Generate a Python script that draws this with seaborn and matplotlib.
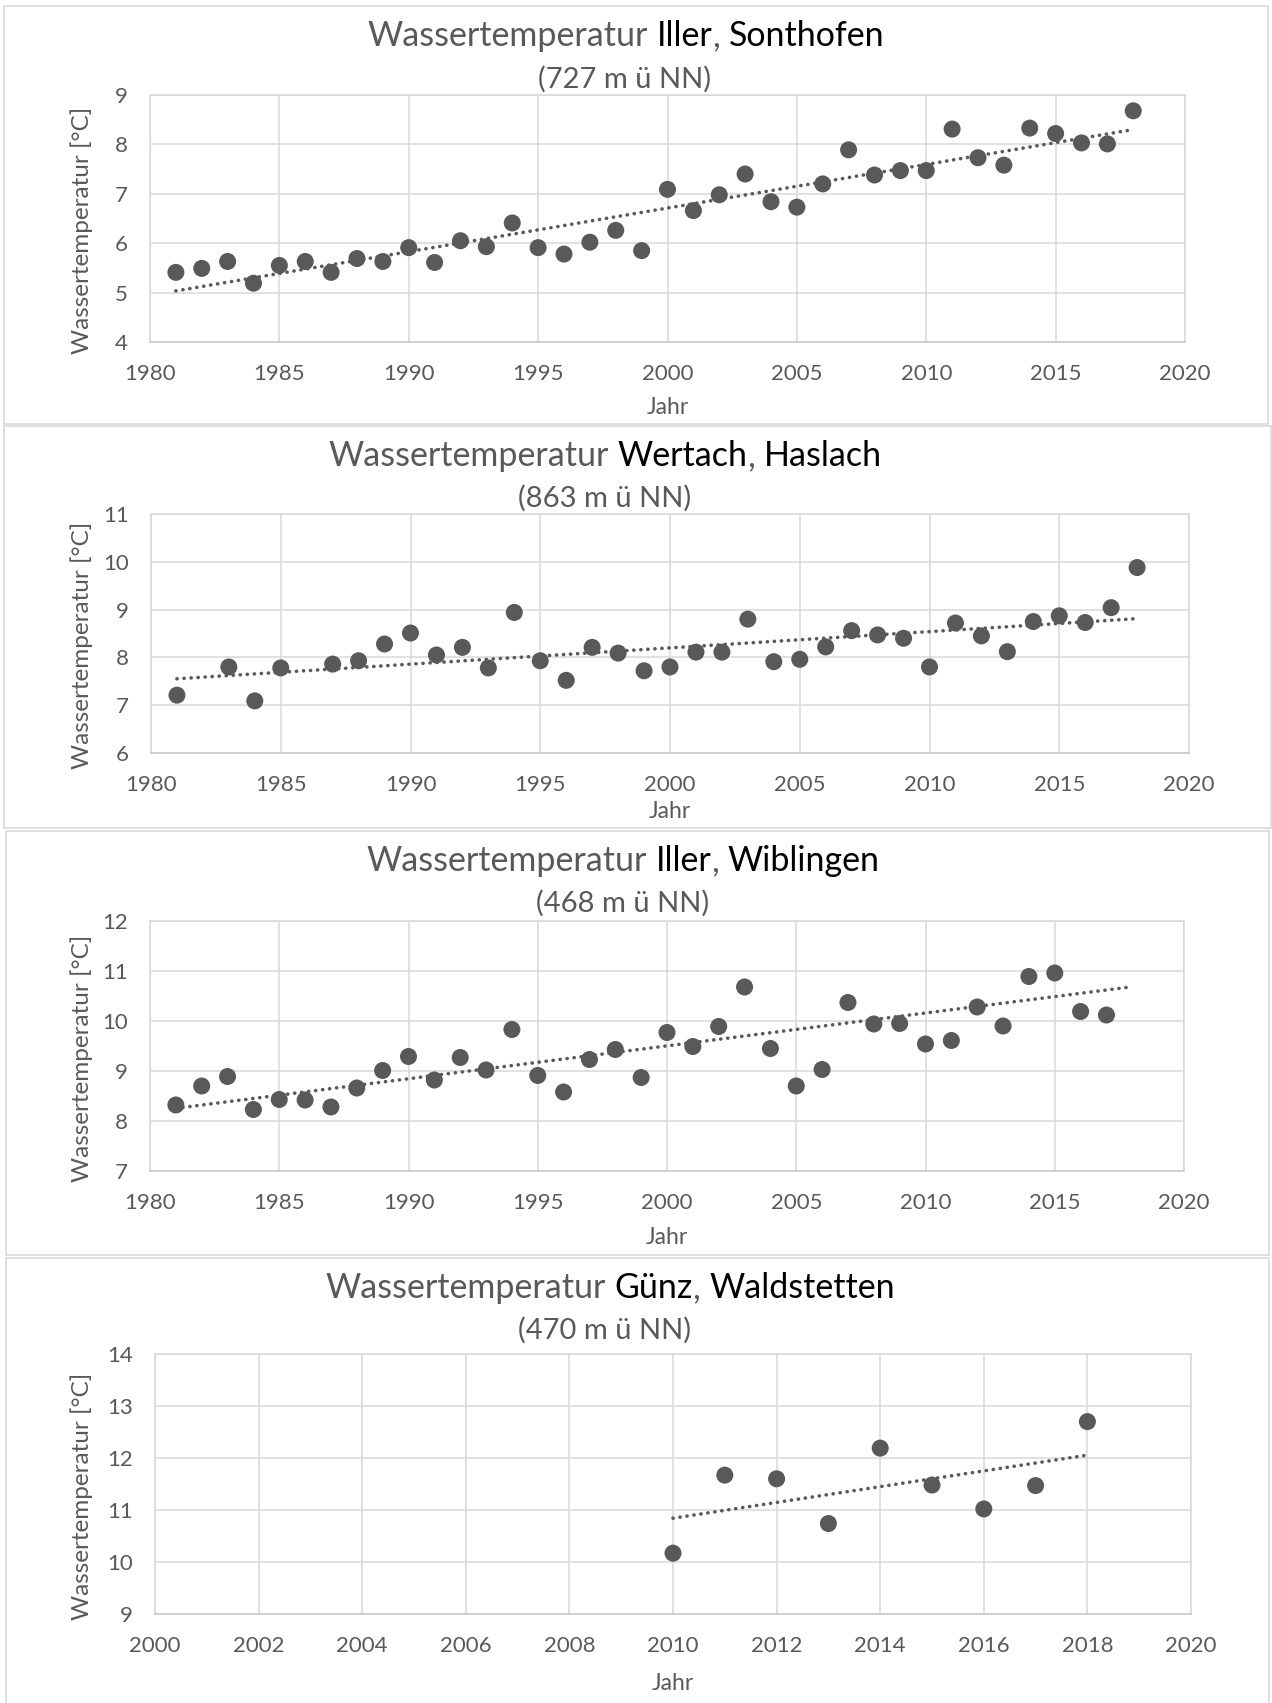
import numpy as np
import matplotlib
matplotlib.use("Agg")
import matplotlib.pyplot as plt
import seaborn as sns
import pandas as pd
from matplotlib.offsetbox import TextArea, HPacker, AnnotationBbox
from matplotlib.patches import Rectangle

# ---------------- data ----------------
years_sonthofen = list(range(1981, 2019))
temp_sonthofen = [5.41, 5.49, 5.63, 5.19, 5.55, 5.63, 5.41, 5.69, 5.63, 5.91,
                  5.61, 6.05, 5.93, 6.41, 5.91, 5.78, 6.02, 6.26, 5.85, 7.09,
                  6.66, 6.98, 7.40, 6.84, 6.73, 7.20, 7.89, 7.38, 7.47, 7.47,
                  8.31, 7.73, 7.58, 8.33, 8.22, 8.03, 8.01, 8.68]

years_haslach = [1981, 1983, 1984, 1985, 1987, 1988, 1989, 1990, 1991, 1992,
                 1993, 1994, 1995, 1996, 1997, 1998, 1999, 2000, 2001, 2002,
                 2003, 2004, 2005, 2006, 2007, 2008, 2009, 2010, 2011, 2012,
                 2013, 2014, 2015, 2016, 2017, 2018]
temp_haslach = [7.21, 7.80, 7.09, 7.78, 7.86, 7.93, 8.28, 8.51, 8.05, 8.21,
                7.78, 8.94, 7.93, 7.52, 8.21, 8.09, 7.72, 7.80, 8.11, 8.11,
                8.80, 7.91, 7.96, 8.22, 8.56, 8.47, 8.40, 7.80, 8.72, 8.45,
                8.12, 8.75, 8.87, 8.73, 9.04, 9.88]

# the 2018 value lies above the axis maximum (12 °C) and is clipped,
# as in the original; it is inferred from the trend line reaching 2018
years_wiblingen = list(range(1981, 2019))
temp_wiblingen = [8.32, 8.70, 8.89, 8.23, 8.43, 8.42, 8.28, 8.66, 9.01, 9.29,
                  8.82, 9.27, 9.02, 9.83, 8.91, 8.58, 9.23, 9.43, 8.87, 9.77,
                  9.49, 9.89, 10.68, 9.45, 8.70, 9.03, 10.37, 9.94, 9.95, 9.54,
                  9.61, 10.28, 9.90, 10.89, 10.96, 10.19, 10.12, 12.90]

years_waldstetten = list(range(2010, 2019))
temp_waldstetten = [10.17, 11.67, 11.60, 10.74, 12.19, 11.48, 11.02, 11.47, 12.70]

rivers = ["Iller", "Wertach", "Iller", "Günz"]
places = ["Sonthofen", "Haslach", "Wiblingen", "Waldstetten"]
altitudes = ["(727 m ü NN)", "(863 m ü NN)", "(468 m ü NN)", "(470 m ü NN)"]
x_limits = [(1980, 2020), (1980, 2020), (1980, 2020), (2000, 2020)]
x_steps = [5, 5, 5, 2]
y_limits = [(4, 9), (6, 11), (7, 12), (9, 14)]

series = [(years_sonthofen, temp_sonthofen), (years_haslach, temp_haslach),
          (years_wiblingen, temp_wiblingen), (years_waldstetten, temp_waldstetten)]

# ---------------- layout (pixels, y from top) ----------------
W, H = 1272, 1703
axes_px = [(150, 95, 1185, 342), (151, 514, 1189, 753),
           (150, 921, 1184, 1171), (155, 1354, 1191, 1614)]
boxes_px = [(4, 6, 1268, 424), (4, 426, 1271, 828),
            (6, 831, 1269, 1255), (6, 1258, 1269, 1710)]
title_c = [(626, 36), (605, 456), (623, 861), (610, 1288)]
sub_c = [(625, 79), (605, 498), (623, 903), (605, 1330)]
ylabel_x = 82
xlabel_y = [407, 812, 1237, 1683]

GRAY = "#595959"
GRID = "#d9d9d9"
FONT = ["Lato", "DejaVu Sans"]

sns.set_theme(style="whitegrid")
plt.rcParams["font.family"] = FONT

fig = plt.figure(figsize=(W / 100, H / 100), dpi=100)
fig.patch.set_facecolor("white")

for i, (yrs, vals) in enumerate(series):
    bx0, by0, bx1, by1 = boxes_px[i]
    fig.patches.append(Rectangle((bx0 / W, 1 - by1 / H), (bx1 - bx0) / W, (by1 - by0) / H,
                                 transform=fig.transFigure, fill=False,
                                 edgecolor=GRID, linewidth=1.2, zorder=0))
    x0, y0, x1, y1 = axes_px[i]
    ax = fig.add_axes([x0 / W, 1 - y1 / H, (x1 - x0) / W, (y1 - y0) / H])
    ax.set_facecolor("white")
    df = pd.DataFrame({"Jahr": yrs, "Temp": vals})
    sns.scatterplot(data=df, x="Jahr", y="Temp", ax=ax, color=GRAY, s=150,
                    edgecolor="none", zorder=3)
    # linear trend line (least squares)
    k, d = np.polyfit(df["Jahr"], df["Temp"], 1)
    tx = np.array([min(yrs), max(yrs)], dtype=float)
    ax.plot(tx, k * tx + d, color=GRAY, linewidth=2.6,
            linestyle=(0, (0.05, 1.9)), dash_capstyle="round", zorder=2)

    ax.set_xlim(*x_limits[i])
    ax.set_ylim(*y_limits[i])
    ax.set_xticks(np.arange(x_limits[i][0], x_limits[i][1] + 0.1, x_steps[i]))
    ax.set_yticks(np.arange(y_limits[i][0], y_limits[i][1] + 0.1, 1))
    ax.grid(True, color=GRID, linewidth=1.1)
    for sp in ax.spines.values():
        sp.set_visible(True)
        sp.set_color(GRID)
        sp.set_linewidth(1.1)
    ax.spines["bottom"].set_color("#c8c8c8")
    ax.tick_params(axis="both", colors=GRAY, labelsize=16, length=0)
    ax.tick_params(axis="x", pad=16)
    ax.tick_params(axis="y", pad=16)
    ax.set_xlabel("")
    ax.set_ylabel("")

    # y label
    fig.text(ylabel_x / W, 1 - ((y0 + y1) / 2 + 12) / H, "Wassertemperatur [°C]",
             rotation=90, ha="center", va="center", color=GRAY, fontsize=17.5)
    # x label
    fig.text(((x0 + x1) / 2) / W, 1 - xlabel_y[i] / H, "Jahr",
             ha="center", va="center", color=GRAY, fontsize=16.5)

    # multi-coloured title
    tprops_g = dict(color=GRAY, fontsize=24.5, family=FONT)
    tprops_k = dict(color="black", fontsize=24.5, family=FONT)
    name = HPacker(children=[TextArea(rivers[i], textprops=tprops_k),
                             TextArea(",", textprops=tprops_g)], sep=0, pad=0,
                   align="baseline")
    packer = HPacker(children=[TextArea("Wassertemperatur", textprops=tprops_g),
                               name,
                               TextArea(places[i], textprops=tprops_k)],
                     sep=6.3, pad=0, align="baseline")
    ab = AnnotationBbox(packer, (title_c[i][0], H - title_c[i][1]), xycoords="figure pixels",
                        frameon=False, box_alignment=(0.5, 0.5), pad=0)
    fig.add_artist(ab)
    fig.text(sub_c[i][0] / W, 1 - sub_c[i][1] / H, altitudes[i],
             ha="center", va="center", color=GRAY, fontsize=21)

fig.savefig("out.png", dpi=100, facecolor="white")
